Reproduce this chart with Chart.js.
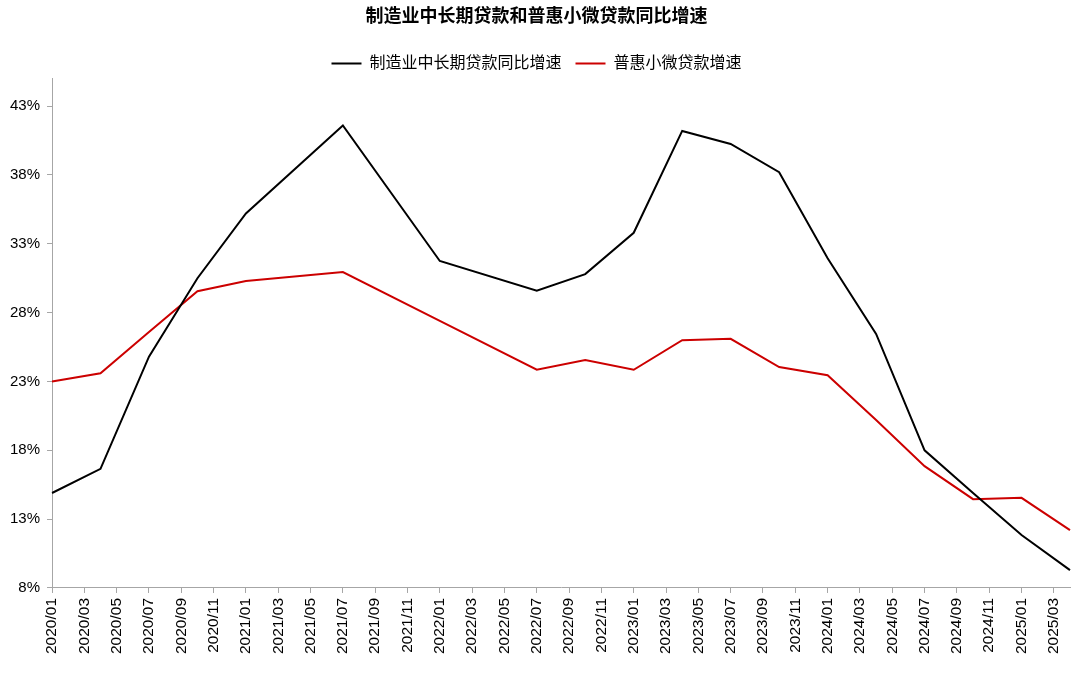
<!DOCTYPE html>
<html>
<head>
<meta charset="utf-8">
<script src="https://cdn.jsdelivr.net/npm/chart.js@4"></script>
<style>
  html, body { margin: 0; padding: 0; background: #fff; }
  #wrap { width: 1080px; height: 674px; }
</style>
</head>
<body>
<div id="wrap"><canvas id="chart" width="1080" height="674"></canvas></div>
<script>
// months 2020/01 .. 2025/04
const months = []
for (let y = 2020; y <= 2025; y++) {
    for (let m = 1; m <= 12; m++) {
        if (y === 2025 && m > 4) break
        months.push(y + "/" + String(m).padStart(2, "0"))
    }
}

// quarterly readings, null for months without data
const mfgLoan = [
    14.9, null, null, 16.65, null, null, 24.8, null, null, 30.5, null, null,
    35.2, null, null, null, null, null, 41.6, null, null, null, null, null,
    31.75, null, null, null, null, null, 29.6, null, null, 30.8, null, null,
    33.8, null, null, 41.2, null, null, 40.25, null, null, 38.2, null, null,
    31.95, null, null, 26.45, null, null, 18.0, null, null, 14.9, null, null,
    11.85, null, null, 9.3
]
const smallLoan = [
    23.0, null, null, 23.6, null, null, 26.6, null, null, 29.55, null, null,
    30.3, null, null, null, null, null, 30.95, null, null, null, null, null,
    27.4, null, null, null, null, null, 23.85, null, null, 24.55, null, null,
    23.85, null, null, 26.0, null, null, 26.1, null, null, 24.05, null, null,
    23.45, null, null, 20.2, null, null, 16.85, null, null, 14.45, null, null,
    14.55, null, null, 12.2
]
const yTicks = [8, 13, 18, 23, 28, 33, 38, 43]

const axisGray = "#a6a6a6"
const font = "'Liberation Sans', Arial, 'Noto Sans CJK SC', sans-serif"

// trim a few px under the legend so the plot starts where the original does
const tightLegend = {
    id: "tightLegend",
    afterInit(chart) {
        const lg = chart.legend
        if (!lg) return
        const fit = lg.fit.bind(lg)
        lg.fit = function () {
            fit()
            this.height -= 3
        }
    }
}

new Chart(document.getElementById("chart"), {
    type: "line",
    data: {
        labels: months,
        datasets: [
            {
                label: "制造业中长期贷款同比增速",
                data: mfgLoan,
                borderColor: "#000000",
                backgroundColor: "#000000",
                borderWidth: 2,
                pointRadius: 0,
                spanGaps: true,
                tension: 0
            },
            {
                label: "普惠小微贷款增速",
                data: smallLoan,
                borderColor: "#cc0000",
                backgroundColor: "#cc0000",
                borderWidth: 2,
                pointRadius: 0,
                spanGaps: true,
                tension: 0
            }
        ]
    },
    plugins: [tightLegend],
    options: {
        responsive: false,
        animation: false,
        layout: { padding: { left: 3, right: 10, top: 0, bottom: 15 } },
        plugins: {
            title: {
                display: true,
                text: "制造业中长期贷款和普惠小微贷款同比增速",
                color: "#000",
                font: { family: font, size: 18, weight: "bold" },
                padding: { top: 6, bottom: 14 }
            },
            legend: {
                display: true,
                labels: {
                    color: "#000",
                    font: { family: font, size: 16 },
                    usePointStyle: true,
                    pointStyle: "line",
                    pointStyleWidth: 30,
                    padding: 14
                }
            },
            tooltip: { enabled: false }
        },
        scales: {
            x: {
                offset: false,
                afterBuildTicks: (scale) => {
                    scale.ticks = scale.ticks.filter((t, i) => i % 2 === 0)
                },
                ticks: {
                    autoSkip: false,
                    maxRotation: 90,
                    minRotation: 90,
                    color: "#000",
                    font: { family: font, size: 15.5 },
                    padding: 5,
                    callback: function (v) { return this.getLabelForValue(v) }
                },
                grid: { drawOnChartArea: false, drawTicks: true, tickLength: 5, color: axisGray },
                border: { color: axisGray }
            },
            y: {
                min: 8,
                max: 45,
                afterBuildTicks: (scale) => {
                    scale.ticks = yTicks.map(v => ({ value: v }))
                },
                ticks: {
                    color: "#000",
                    font: { family: font, size: 15 },
                    padding: 7,
                    callback: (v) => v + "%"
                },
                grid: { drawOnChartArea: false, drawTicks: true, tickLength: 5, color: axisGray },
                border: { color: axisGray }
            }
        }
    }
})
</script>
</body>
</html>
